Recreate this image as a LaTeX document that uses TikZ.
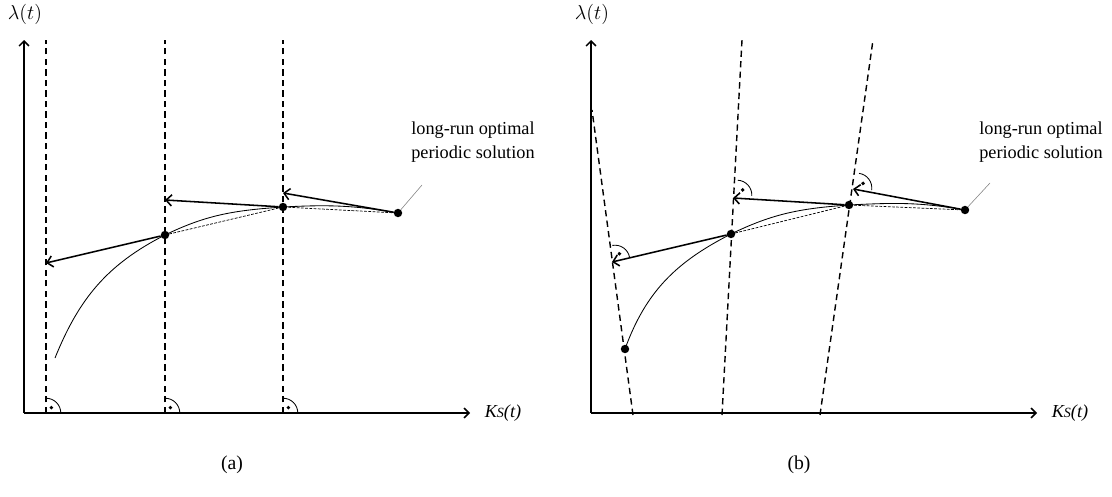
\documentclass[tikz,border=0pt]{standalone}
\usepackage{fontspec}
\setmainfont{Liberation Serif}
\usetikzlibrary{arrows.meta}

\begin{document}
\begin{tikzpicture}[
    x=0.025cm, y=0.025cm,
    axis/.style={line width=1.1pt, -{Straight Barb[length=3.5pt,width=7pt]}},
    arrow/.style={line width=1.1pt, -{Straight Barb[length=4pt,width=8pt]}},
    guide/.style={line width=1pt, dash pattern=on 4.5pt off 3pt},
    chord/.style={line width=0.5pt, dash pattern=on 2pt off 1pt},
    trajectory/.style={line width=0.6pt},
    point/.style={circle, fill=black, inner sep=0pt, minimum size=6pt},
    leader/.style={gray, line width=0.4pt},
    note/.style={font=\fontsize{13}{17}\selectfont, align=left, anchor=west, inner sep=0pt},
    axlabel/.style={font=\fontsize{14}{16}\selectfont, inner sep=0pt},
    ksfont/.style={font=\fontsize{13}{15}\selectfont\itshape, inner sep=0pt},
    caption/.style={font=\fontsize{14}{16}\selectfont, inner sep=0pt},
    rmark/.pic={
        \draw [line width=0.6pt] (0.37cm,0) arc[start angle=0, end angle=90, radius=0.37cm];
        \fill (45:0.19cm) circle[radius=1.4pt];
    }
]
\useasboundingbox (0,0) rectangle (1112,496);

% panel (a)
\coordinate (oa) at (24,83);
\coordinate (ya) at (24,456);
\coordinate (xa) at (470,83);
\draw [axis] (oa) -- (ya);
\draw [axis] (oa) -- (xa);
\node (lama) [axlabel] at (25,482) {$\lambda(t)$};
\node (ksa) [ksfont] at (503,83) {K{\fontsize{10}{12}\selectfont S}(t)};

\foreach \x [count=\i] in {46,165,283} {
    \coordinate (ga\i) at (\x,83);
    \coordinate (ha\i) at (\x,456);
    \draw [guide] (ga\i) -- (ha\i);
    \pic at (ga\i) {rmark};
}

\coordinate (ca0) at (55,138);
\node (pa1) [point] at (165,261) {};
\node (pa2) [point] at (283,289) {};
\node (pa3) [point] at (398,283) {};
\coordinate (ta1) at (46,233);
\coordinate (ta2) at (165,296);
\coordinate (ta3) at (283,303);

\draw [trajectory] (ca0) to[out=68,in=207] (pa1.center)
    to[out=26,in=184] (pa2.center) to[out=3,in=170] (pa3.center);
\draw [chord] (pa1.center) -- (pa2.center) -- (pa3.center);
\draw [arrow] (pa3) -- (ta3);
\draw [arrow] (pa2) -- (ta2);
\draw [arrow] (pa1) -- (ta1);

\coordinate (la) at (422,311);
\draw [leader] (pa3) -- (la);
\node (nta) [note] at (411,354) {long-run optimal\\periodic solution};
\node (capa) [caption] at (232,31) {(a)};

% panel (b)
\coordinate (ob) at (591,83);
\coordinate (yb) at (591,456);
\coordinate (xb) at (1037,83);
\draw [axis] (ob) -- (yb);
\draw [axis] (ob) -- (xb);
\node (lamb) [axlabel] at (592,482) {$\lambda(t)$};
\node (ksb) [ksfont] at (1070,83) {K{\fontsize{10}{12}\selectfont S}(t)};

\coordinate (gb1) at (633,81);
\coordinate (hb1) at (592,386);
\coordinate (gb2) at (722,81);
\coordinate (hb2) at (742,456);
\coordinate (gb3) at (820,81);
\coordinate (hb3) at (873,456);
\draw [guide] (gb1) -- (hb1);
\draw [guide] (gb2) -- (hb2);
\draw [guide] (gb3) -- (hb3);

\node (pb0) [point] at (625,147) {};
\node (pb1) [point] at (731,262) {};
\node (pb2) [point] at (849,291) {};
\node (pb3) [point] at (965,286) {};
\coordinate (tb1) at (612,234);
\coordinate (tb2) at (733,298);
\coordinate (tb3) at (853,307);

\draw [trajectory] (pb0.center) to[out=70,in=207] (pb1.center)
    to[out=26,in=184] (pb2.center) to[out=3,in=170] (pb3.center);
\draw [chord] (pb1.center) -- (pb2.center) -- (pb3.center);
\draw [arrow] (pb3) -- (tb3);
\draw [arrow] (pb2) -- (tb2);
\draw [arrow] (pb1) -- (tb1);

\pic [rotate=10] at ([shift={(3,2)}]tb1) {rmark};
\pic [rotate=-3] at ([shift={(4,3)}]tb2) {rmark};
\pic [rotate=-8] at ([shift={(4,1)}]tb3) {rmark};

\coordinate (lb) at (990,313);
\draw [leader] (pb3) -- (lb);
\node (ntb) [note] at (979,354) {long-run optimal\\periodic solution};
\node (capb) [caption] at (799,31) {(b)};
\end{tikzpicture}
\end{document}
